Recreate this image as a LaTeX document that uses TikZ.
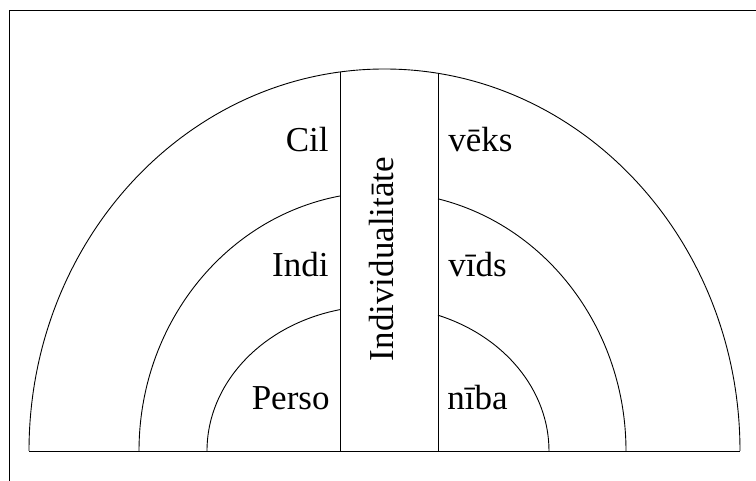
\documentclass[tikz,border=0pt]{standalone}
\usepackage{fontspec}
\setmainfont{Liberation Serif}
\begin{document}
\begin{tikzpicture}[x=1pt, y=1pt, line width=0.9pt,
  lbl/.style={inner sep=0pt, font=\fontsize{35}{40}\selectfont}]
  \useasboundingbox (0,0) rectangle (756,481);
  % frame, only top and left visible
  \draw[line width=1.4pt] (9.5,0) -- (9.5,470.5) -- (756,470.5);

  % baseline and the three half rings
  \coordinate (bl) at (29,30);
  \coordinate (br) at (740,30);
  \draw (bl) -- (br);
  \draw (br) arc[start angle=0, end angle=180, x radius=355.5, y radius=382];
  \draw (139,30) arc[start angle=180, end angle=100.05, x radius=243.5, y radius=259];
  \draw (626,30) arc[start angle=0, end angle=76.82, x radius=243.5, y radius=259];
  \draw (207,30) arc[start angle=180, end angle=102.84, x radius=171, y radius=145];
  \draw (549,30) arc[start angle=0, end angle=69.46, x radius=171, y radius=145];

  % the middle strip
  \coordinate (ltop) at (340,409);
  \coordinate (rtop) at (438,407.6);
  \draw (340,30) -- (ltop);
  \draw (438,30) -- (rtop);
  \node[lbl, rotate=90, anchor=base] (indiv) at (393,222) {Individualitāte};

  % ring labels
  \node[lbl, anchor=base east] (cil) at (329,329) {Cil};
  \node[lbl, anchor=base west] (veks) at (448,329) {vēks};
  \node[lbl, anchor=base east] (indi) at (329,204) {Indi};
  \node[lbl, anchor=base west] (vids) at (448,204) {vīds};
  \node[lbl, anchor=base east] (perso) at (330,71) {Perso};
  \node[lbl, anchor=base west] (niba) at (447,71) {nība};
\end{tikzpicture}
\end{document}
